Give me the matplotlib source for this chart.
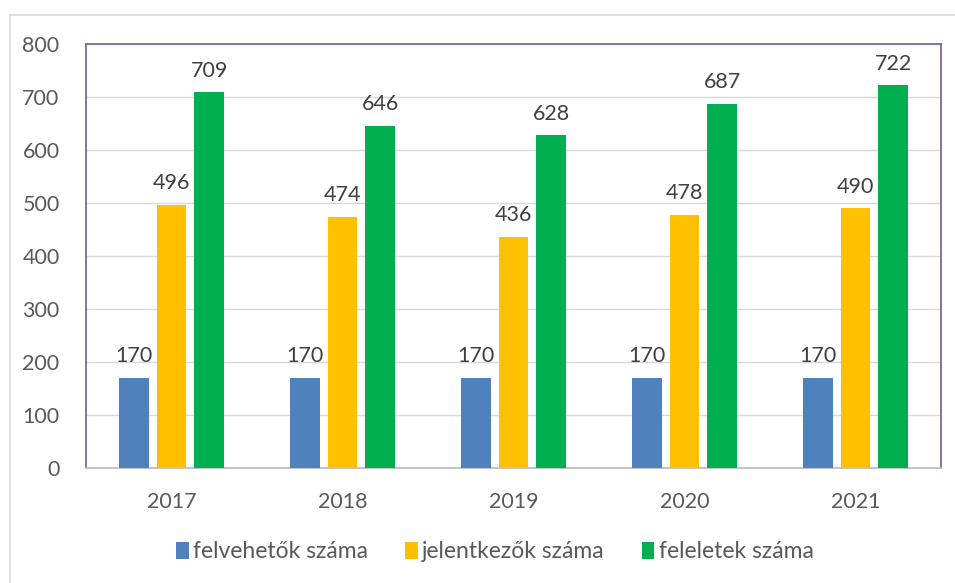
import numpy as np
import matplotlib.pyplot as plt
from matplotlib.patches import Rectangle

years = ['2017', '2018', '2019', '2020', '2021']
felveheto = [170, 170, 170, 170, 170]
jelentkezo = [496, 474, 436, 478, 490]
feleletek = [709, 646, 628, 687, 722]
series_names = ['felvehetők száma', 'jelentkezők száma', 'feleletek száma']
colors = ['#4f81bd', '#ffc000', '#00b050']

plt.rcParams['font.family'] = ['Lato', 'DejaVu Sans']
text_col = '#595959'

fig = plt.figure(figsize=(9.55, 5.83), dpi=100)
# outer chart border
fig.patches.append(Rectangle((10 / 955, -0.01), 950 / 955, 1 - 15 / 583 + 0.01,
                             transform=fig.transFigure, fill=False,
                             edgecolor='#d9d9d9', linewidth=1.2))

ax = fig.add_axes([86 / 955, 1 - 468 / 583, (941 - 86) / 955, (468 - 44) / 583])

x = np.arange(len(years))
w = 0.175
off = 0.222
for i, (vals, name) in enumerate(zip([felveheto, jelentkezo, feleletek], series_names)):
    pos = x + (i - 1) * off
    ax.bar(pos, vals, width=w, color=colors[i], label=name, zorder=3)
    for p, v in zip(pos, vals):
        ax.text(p, v + 22, str(v), ha='center', va='bottom', fontsize=15.5,
                color='#404040')

ax.set_xlim(-0.5, len(years) - 0.5)
ax.set_ylim(0, 800)
ax.set_yticks(range(0, 801, 100))
ax.set_xticks(x)
ax.set_xticklabels(years)
ax.grid(axis='y', color='#d9d9d9', linewidth=1, zorder=0)
ax.tick_params(axis='both', length=0, labelsize=15.5, colors=text_col)
ax.tick_params(axis='x', pad=17)
ax.tick_params(axis='y', pad=19)
for s in ['top', 'right', 'left']:
    ax.spines[s].set_color('#7a6a9a')
    ax.spines[s].set_linewidth(1.3)
ax.spines['bottom'].set_color('#bfbfbf')
ax.spines['bottom'].set_linewidth(1.3)

leg = fig.legend(loc='center', bbox_to_anchor=(495 / 955, 1 - 552 / 583), ncol=3,
                 frameon=False, fontsize=16.5, handlelength=0.55, handleheight=0.7,
                 handletextpad=0.2, columnspacing=1.6)
for t in leg.get_texts():
    t.set_color(text_col)

fig.savefig('out.png', dpi=100)
